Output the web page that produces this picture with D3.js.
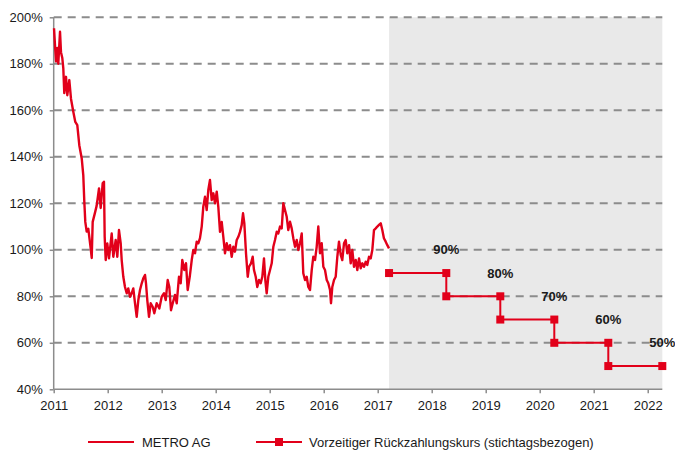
<!DOCTYPE html>
<html lang="de">
  <head>
    <meta charset="UTF-8" />
    <title>METRO AG</title>
    <script src="https://d3js.org/d3.v7.min.js"></script>
    <style>
      * {
        margin: 0;
        padding: 0;
      }
      body {
        background: #fff;
      }
      text {
        font-family: "Liberation Sans", Arial, sans-serif;
        fill: #1a1a1a;
      }
      .axis text {
        font-size: 13px;
      }
      .lvl {
        font-size: 13px;
        font-weight: bold;
      }
      .legend text {
        font-size: 13px;
      }
    </style>
  </head>

  <body></body>

  <script>
    let w = 675;
    let h = 452;

    // Kursverlauf METRO AG (Datum als Dezimaljahr, Kurs in % vom Startwert)
    const metroDates = [
      2011.006, 2011.024, 2011.043, 2011.067, 2011.085, 2011.117, 2011.135, 2011.159, 2011.178, 2011.196,
      2011.228, 2011.252, 2011.289, 2011.32, 2011.363, 2011.4, 2011.437, 2011.474, 2011.519, 2011.548,
      2011.567, 2011.585, 2011.611, 2011.641, 2011.685, 2011.704, 2011.722, 2011.765, 2011.796, 2011.839,
      2011.87, 2011.907, 2011.931, 2011.944, 2011.963, 2011.993, 2012.024, 2012.074, 2012.104, 2012.148,
      2012.178, 2012.209, 2012.241, 2012.259, 2012.289, 2012.32, 2012.352, 2012.381, 2012.413, 2012.444,
      2012.474, 2012.506, 2012.537, 2012.567, 2012.598, 2012.63, 2012.659, 2012.691, 2012.709, 2012.733,
      2012.765, 2012.796, 2012.833, 2012.863, 2012.907, 2012.956, 2013.0, 2013.043, 2013.074, 2013.111,
      2013.141, 2013.172, 2013.204, 2013.246, 2013.278, 2013.32, 2013.352, 2013.381, 2013.419, 2013.45,
      2013.481, 2013.519, 2013.556, 2013.585, 2013.617, 2013.648, 2013.678, 2013.709, 2013.741, 2013.77,
      2013.802, 2013.833, 2013.863, 2013.894, 2013.926, 2013.956, 2013.987, 2014.019, 2014.048, 2014.08,
      2014.111, 2014.141, 2014.172, 2014.204, 2014.233, 2014.265, 2014.296, 2014.326, 2014.357, 2014.389,
      2014.419, 2014.45, 2014.481, 2014.506, 2014.53, 2014.561, 2014.593, 2014.617, 2014.654, 2014.685,
      2014.709, 2014.741, 2014.77, 2014.802, 2014.833, 2014.863, 2014.894, 2014.919, 2014.944, 2014.974,
      2015.006, 2015.037, 2015.067, 2015.098, 2015.13, 2015.159, 2015.191, 2015.222, 2015.252, 2015.283,
      2015.315, 2015.344, 2015.376, 2015.407, 2015.437, 2015.469, 2015.5, 2015.53, 2015.561, 2015.593,
      2015.622, 2015.654, 2015.685, 2015.715, 2015.746, 2015.778, 2015.807, 2015.839, 2015.87, 2015.9,
      2015.931, 2015.963, 2015.993, 2016.024, 2016.056, 2016.085, 2016.117, 2016.135, 2016.159, 2016.191,
      2016.222, 2016.252, 2016.283, 2016.315, 2016.344, 2016.376, 2016.407, 2016.437, 2016.469, 2016.5,
      2016.53, 2016.561, 2016.593, 2016.622, 2016.654, 2016.685, 2016.715, 2016.746, 2016.778, 2016.807,
      2016.839, 2016.87, 2016.9, 2016.931, 2016.963, 2016.993, 2017.024, 2017.056, 2017.085, 2017.115,
      2017.148, 2017.178, 2017.209,
    ];
    const metroValues = [
      195.3, 188, 181, 186.8, 180, 193.8, 185, 182.5, 178, 167.4,
      174.4, 166.5, 173, 165, 159.4, 155, 153.6, 145, 139.3, 132,
      120.7, 112, 107.8, 109, 100.6, 96.5, 112, 116, 119, 126.4,
      118, 128.6, 129.3, 105.6, 95.6, 102.7, 96.3, 107, 97, 104.2,
      97, 108.5, 102.7, 95.6, 88.4, 84, 81.3, 83.4, 79.8, 81.3,
      83.4, 77, 71.2, 78.4, 82.7, 85.6, 87.7, 89.2, 85.6, 78.4,
      71.2, 77, 75.5, 72.7, 77, 74.8, 79.8, 81.3, 78.4, 87,
      84, 74, 77, 80.6, 77, 88.4, 85.6, 95.6, 91.3, 94.2,
      82.7, 88.4, 95.6, 99.9, 98.5, 103.5, 102.8, 105, 110, 118.5,
      122.8, 117.1, 125.7, 130, 121.4, 124.3, 120, 125, 118.5, 107.7,
      112, 105.6, 98.5, 102.8, 99.9, 102, 97, 101.3, 99.2, 104.2,
      105.6, 107.7, 110.6, 115.7, 111.4, 98.5, 88.4, 92.7, 94.2, 97,
      91.3, 88.4, 84, 87, 85.6, 88.4, 96.3, 87, 81.3, 88.4,
      91.3, 94.2, 101.3, 104.2, 107.8, 107, 110, 109.2, 120, 117.1,
      114.2, 108.5, 112.1, 109.2, 105, 101.3, 104.2, 99.9, 102.8, 107,
      89.9, 87, 88.4, 84, 82.7, 91.3, 97, 95.6, 101.3, 110,
      98.5, 102.8, 92.7, 91.3, 87, 85.6, 82.7, 77, 84, 87,
      88.4, 97, 103.5, 97.8, 95.6, 102.8, 104.2, 98.5, 102, 94.2,
      99.9, 92.7, 95.6, 91.3, 96.3, 92, 94.2, 92.7, 94.9, 93.5,
      97, 96.3, 99.9, 108.5, 109.2, 110, 110.7, 111.4, 108.5, 105,
      103.5, 102, 100.6,
    ];

    // Vorzeitiger Rückzahlungskurs: Stichtage und Niveaus
    const stepDates = [2017.21, 2018.27, 2019.27, 2020.27, 2021.27, 2022.27];
    const stepLevels = [90, 80, 70, 60, 50];
    const levelLabels = ["90%", "80%", "70%", "60%", "50%"];

    const yTicks = [40, 60, 80, 100, 120, 140, 160, 180, 200];
    const xTicks = [2011, 2012, 2013, 2014, 2015, 2016, 2017, 2018, 2019, 2020, 2021, 2022];
    const legendNames = ["METRO AG", "Vorzeitiger Rückzahlungskurs (stichtagsbezogen)"];

    const red = "#e2001a";
    const gray = "#8c8c8c";

    let svg = d3
      .select("body")
      .append("svg")
      .attr("width", w)
      .attr("height", h);

    let x = d3.scaleLinear().domain([2011, 2022.27]).range([53.7, 662.3]);
    let y = d3.scaleLinear().domain([40, 200]).range([389.3, 17.3]);

    // grauer Bereich ab Beobachtungsbeginn
    svg
      .append("rect")
      .attr("x", x(stepDates[0]))
      .attr("y", y(200))
      .attr("width", x(2022.27) - x(stepDates[0]))
      .attr("height", y(40) - y(200))
      .attr("fill", "#e9e9e9");

    // Gitterlinien
    svg
      .append("g")
      .selectAll("line")
      .data(yTicks.slice(1))
      .enter()
      .append("line")
      .attr("x1", x(2011))
      .attr("x2", x(2022.27))
      .attr("y1", (d) => y(d))
      .attr("y2", (d) => y(d))
      .attr("stroke", gray)
      .attr("stroke-width", 2)
      .attr("stroke-dasharray", "8,6");

    // Achsen
    let yAxis = svg
      .append("g")
      .attr("class", "axis")
      .attr("transform", "translate(" + x(2011) + ",0)")
      .call(
        d3
          .axisLeft(y)
          .tickValues(yTicks)
          .tickSize(4)
          .tickPadding(7)
          .tickFormat((d) => d + "%")
      );
    let xAxis = svg
      .append("g")
      .attr("class", "axis")
      .attr("transform", "translate(0," + y(40) + ")")
      .call(
        d3
          .axisBottom(x)
          .tickValues(xTicks)
          .tickSize(4)
          .tickPadding(7)
          .tickFormat(d3.format("d"))
      );
    [yAxis, xAxis].forEach((a) => {
      a.selectAll("path").attr("stroke", gray).attr("stroke-width", 1.5);
      a.selectAll("line").attr("stroke", gray).attr("stroke-width", 1.5);
      a.selectAll("text").attr("fill", "#1a1a1a");
    });
    yAxis.select(".domain").attr("d", "M0," + y(40) + "V" + y(200));
    xAxis.select(".domain").attr("d", "M" + x(2011) + ",0H" + x(2022.27));

    // Kurslinie
    let line = d3
      .line()
      .x((d, i) => x(metroDates[i]))
      .y((d) => y(d));
    svg
      .append("path")
      .datum(metroValues)
      .attr("d", line)
      .attr("fill", "none")
      .attr("stroke", red)
      .attr("stroke-width", 2.4)
      .attr("stroke-linejoin", "round");

    // Stufenlinie Rückzahlungskurs
    let stepPts = [];
    stepLevels.forEach((lv, i) => {
      stepPts.push([stepDates[i], lv]);
      stepPts.push([stepDates[i + 1], lv]);
    });
    svg
      .append("path")
      .datum(stepPts)
      .attr(
        "d",
        d3
          .line()
          .x((d) => x(d[0]))
          .y((d) => y(d[1]))
      )
      .attr("fill", "none")
      .attr("stroke", red)
      .attr("stroke-width", 2);
    svg
      .append("g")
      .selectAll("rect")
      .data(stepPts)
      .enter()
      .append("rect")
      .attr("x", (d) => x(d[0]) - 4)
      .attr("y", (d) => y(d[1]) - 4)
      .attr("width", 8)
      .attr("height", 8)
      .attr("fill", red);

    svg
      .append("g")
      .selectAll("text")
      .data(stepLevels)
      .enter()
      .append("text")
      .attr("class", "lvl")
      .attr("x", (d, i) => x(stepDates[i + 1]))
      .attr("y", (d) => y(d + 10))
      .attr("dy", "0.35em")
      .attr("text-anchor", "middle")
      .text((d, i) => levelLabels[i]);

    // Legende
    let legend = svg.append("g").attr("class", "legend");
    let ly = 442;
    legend
      .append("line")
      .attr("x1", 88)
      .attr("x2", 134)
      .attr("y1", ly)
      .attr("y2", ly)
      .attr("stroke", red)
      .attr("stroke-width", 2);
    legend
      .append("text")
      .attr("x", 142)
      .attr("y", ly)
      .attr("dy", "0.35em")
      .text(legendNames[0]);
    legend
      .append("line")
      .attr("x1", 256)
      .attr("x2", 302)
      .attr("y1", ly)
      .attr("y2", ly)
      .attr("stroke", red)
      .attr("stroke-width", 2);
    legend
      .append("rect")
      .attr("x", 275)
      .attr("y", ly - 4)
      .attr("width", 8)
      .attr("height", 8)
      .attr("fill", red);
    legend
      .append("text")
      .attr("x", 309)
      .attr("y", ly)
      .attr("dy", "0.35em")
      .text(legendNames[1]);
  </script>
</html>
